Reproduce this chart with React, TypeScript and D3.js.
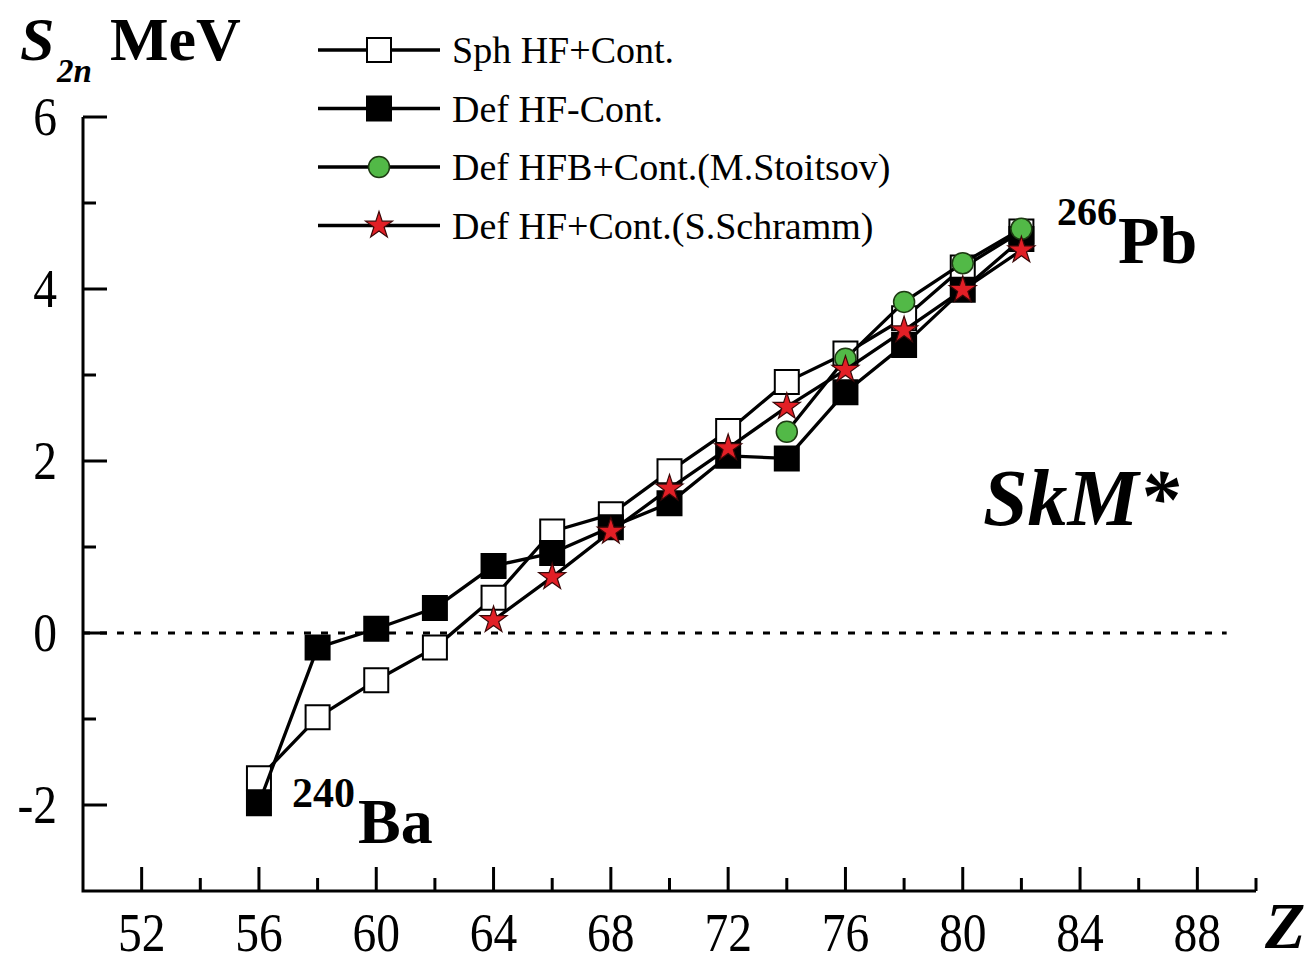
import React from 'react';
import * as d3 from 'd3';

// proton number Z for the isotone chain 240Ba ... 266Pb
const zValues = [56, 58, 60, 62, 64, 66, 68, 70, 72, 74, 76, 78, 80, 82];
const sphHFCont = [-1.69, -0.98, -0.55, -0.17, 0.41, 1.18, 1.38, 1.88, 2.35, 2.92, 3.25, 3.66, 4.25, 4.67];
const defHFCont = [-1.98, -0.17, 0.05, 0.29, 0.78, 0.93, 1.23, 1.51, 2.06, 2.03, 2.8, 3.35, 3.99, 4.58];

const stoitsovZ = [74, 76, 78, 80, 82];
const stoitsovHFB = [2.34, 3.19, 3.85, 4.3, 4.7];

const schrammZ = [64, 66, 68, 70, 72, 74, 76, 78, 80, 82];
const schrammHF = [0.15, 0.65, 1.18, 1.68, 2.15, 2.63, 3.06, 3.52, 3.99, 4.45];

const xMajorTicks = [52, 56, 60, 64, 68, 72, 76, 80, 84, 88];
const xMinorTicks = [54, 58, 62, 66, 70, 74, 78, 82, 86, 90];
const yMajorTicks = [-2, 0, 2, 4, 6];
const yMinorTicks = [-1, 1, 3, 5];

const legendLabels = [
    'Sph HF+Cont.',
    'Def HF-Cont.',
    'Def HFB+Cont.(M.Stoitsov)',
    'Def HF+Cont.(S.Schramm)',
];

const FONT = '"Liberation Serif", "Times New Roman", serif';

const x = d3.scaleLinear().domain([50, 90]).range([83, 1256]);
const y = d3.scaleLinear().domain([-3, 6]).range([891, 117]);

const line = d3.line<[number, number]>()
    .x(d => x(d[0]))
    .y(d => y(d[1]));

const squarePath = d3.symbol().type(d3.symbolSquare).size(24 * 24)() as string;
const circlePath = d3.symbol().type(d3.symbolCircle).size(Math.PI * 10.5 * 10.5)() as string;
const starPath = d3.symbol().type(d3.symbolStar).size(225)() as string;

type Series = {
    zs: number[];
    vals: number[];
    path: string;
    fill: string;
    stroke: string;
    strokeWidth: number;
};

const series: Series[] = [
    { zs: zValues, vals: sphHFCont, path: squarePath, fill: '#ffffff', stroke: '#000', strokeWidth: 2 },
    { zs: zValues, vals: defHFCont, path: squarePath, fill: '#000000', stroke: '#000', strokeWidth: 2 },
    { zs: stoitsovZ, vals: stoitsovHFB, path: circlePath, fill: '#52b947', stroke: '#1d3a12', strokeWidth: 1.5 },
    { zs: schrammZ, vals: schrammHF, path: starPath, fill: '#e21f26', stroke: '#3b0808', strokeWidth: 1.2 },
];

export default function App() {
    const legendX0 = 318, legendX1 = 440, legendTop = 50, legendStep = 58.5;
    const sx = 0.88; // tick labels in the figure are narrow, tall digits

    return (
        <svg width={1312} height={964}
            style={{ position: 'absolute', left: 0, top: 0, background: '#fff' }}
            fontFamily={FONT}>

            {/* zero reference */}
            <line x1={x(50)} x2={x(89)} y1={y(0)} y2={y(0)}
                stroke="#000" strokeWidth={3} strokeDasharray="7 10" />

            {/* axes */}
            <path d={`M${x(50)},${y(6)}V${y(-3)}H${x(90)}`} fill="none" stroke="#000" strokeWidth={3} />
            {xMajorTicks.map(t => (
                <g key={'xM' + t}>
                    <line x1={x(t)} x2={x(t)} y1={y(-3)} y2={y(-3) - 24} stroke="#000" strokeWidth={3} />
                    <text transform={`translate(${x(t)},951) scale(${sx},1)`} fontSize={54} textAnchor="middle">{t}</text>
                </g>
            ))}
            {xMinorTicks.map(t => (
                <line key={'xm' + t} x1={x(t)} x2={x(t)} y1={y(-3)} y2={y(-3) - 13} stroke="#000" strokeWidth={3} />
            ))}
            {yMajorTicks.map(t => (
                <g key={'yM' + t}>
                    <line x1={x(50)} x2={x(50) + 24} y1={y(t)} y2={y(t)} stroke="#000" strokeWidth={3} />
                    <text transform={`translate(57,${y(t) + 18}) scale(${sx},1)`} fontSize={54} textAnchor="end">{t}</text>
                </g>
            ))}
            {yMinorTicks.map(t => (
                <line key={'ym' + t} x1={x(50)} x2={x(50) + 13} y1={y(t)} y2={y(t)} stroke="#000" strokeWidth={3} />
            ))}

            {/* data */}
            {series.map((s, i) => {
                const pts = s.zs.map((z, j) => [z, s.vals[j]] as [number, number]);
                return (
                    <g key={'s' + i}>
                        <path d={line(pts) as string} fill="none" stroke="#000" strokeWidth={3.3} strokeLinejoin="round" />
                        {pts.map((p, j) => (
                            <path key={j} d={s.path} transform={`translate(${x(p[0])},${y(p[1])})`}
                                fill={s.fill} stroke={s.stroke} strokeWidth={s.strokeWidth} />
                        ))}
                    </g>
                );
            })}

            {/* legend */}
            {series.map((s, i) => {
                const ly = legendTop + i * legendStep;
                return (
                    <g key={'l' + i}>
                        <line x1={legendX0} x2={legendX1} y1={ly} y2={ly} stroke="#000" strokeWidth={3.3} />
                        <path d={s.path} transform={`translate(${(legendX0 + legendX1) / 2},${ly})`}
                            fill={s.fill} stroke={s.stroke} strokeWidth={s.strokeWidth} />
                        <text x={452} y={ly + 13} fontSize={38}>{legendLabels[i]}</text>
                    </g>
                );
            })}

            {/* axis titles */}
            <text x={20} y={60} fontSize={62} fontWeight="bold" fontStyle="italic">S</text>
            <text x={57} y={82} fontSize={33} fontWeight="bold" fontStyle="italic">2n</text>
            <text x={110} y={60} fontSize={62} fontWeight="bold">MeV</text>
            <text x={1265} y={948} fontSize={66} fontWeight="bold" fontStyle="italic">Z</text>

            {/* annotations */}
            <text x={1057} y={225} fontSize={40} fontWeight="bold">266</text>
            <text x={1118} y={263} fontSize={68} fontWeight="bold">Pb</text>
            <text x={292} y={807} fontSize={42} fontWeight="bold">240</text>
            <text x={358} y={843} fontSize={64} fontWeight="bold">Ba</text>
            <text x={983} y={525} fontSize={80} fontWeight="bold" fontStyle="italic">SkM*</text>
        </svg>
    );
}
